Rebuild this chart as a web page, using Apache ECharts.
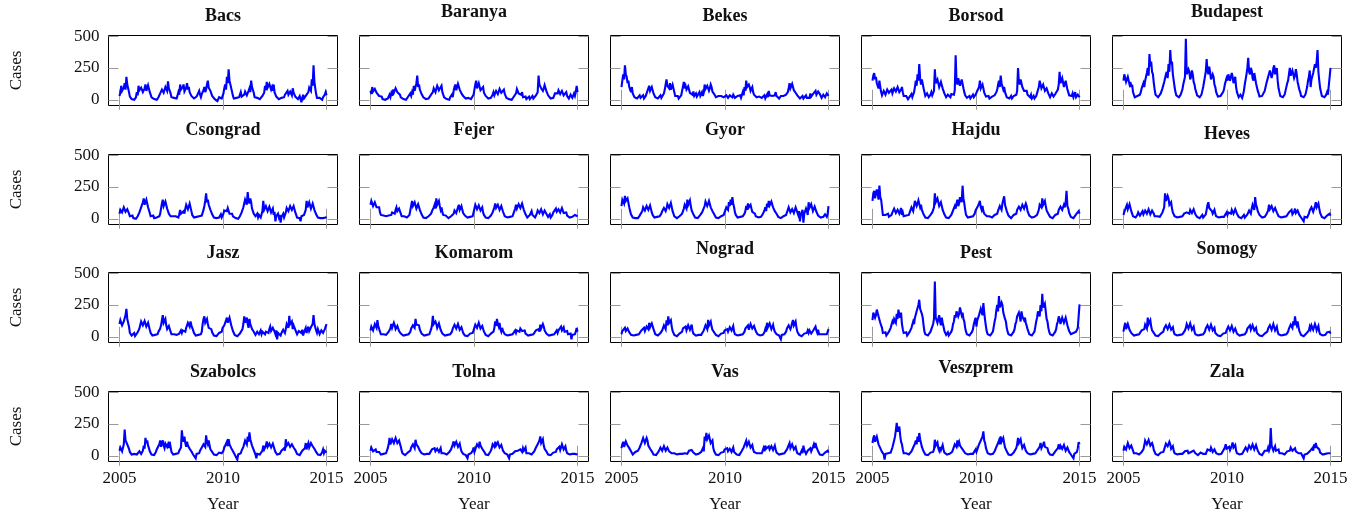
<!DOCTYPE html>
<html><head><meta charset="utf-8">
<script src="https://cdn.jsdelivr.net/npm/echarts@6/dist/echarts.min.js"></script>
<style>html,body{margin:0;padding:0;background:#fff}#c{width:1364px;height:517px}</style>
</head><body><div id="c"></div>
<script>
const counties = ['Bacs','Baranya','Bekes','Borsod','Budapest','Csongrad','Fejer','Gyor','Hajdu','Heves','Jasz','Komarom','Nograd','Pest','Somogy','Szabolcs','Tolna','Vas','Veszprem','Zala'];
const xTicks = [2005, 2010, 2015];
const yTicks = [0, 250, 500];
const X_START = 2005, X_END = 2015;

// half-monthly values, 2005-2014 (one row per year)
const bacs = [
30,55,110,70,60,95,130,80,180,120,110,60,25,40,5,15,10,0,5,20,60,35,110,75,
60,95,110,60,50,90,120,70,80,115,115,60,40,20,10,25,5,10,10,0,5,20,30,50,
50,80,90,55,60,100,100,70,145,90,90,50,20,35,5,15,0,10,10,25,60,40,120,80,
70,100,120,65,50,95,130,80,100,60,60,30,20,35,10,0,5,25,30,10,70,40,20,45,
40,75,100,60,80,120,150,95,110,70,60,30,15,30,5,10,10,-10,5,20,20,5,10,25,
50,90,120,80,180,130,240,150,150,90,60,30,10,25,5,15,0,10,20,5,60,25,20,40,
40,65,70,35,30,70,90,60,150,100,100,55,20,35,5,15,10,0,5,20,10,30,30,55,
110,75,140,95,90,125,130,80,100,70,120,60,50,25,10,20,5,10,0,15,10,25,20,40,
30,55,70,40,40,65,60,35,90,55,50,25,10,25,5,20,30,5,-20,15,40,10,10,30,
20,45,60,95,100,70,160,110,270,140,90,45,15,30,5,15,10,0,0,20,20,40,60,35];
const baranya = [
70,45,100,65,60,85,90,55,70,45,30,15,15,25,5,15,10,0,5,15,10,25,40,20,
50,30,80,55,60,90,100,60,70,45,40,20,15,25,5,15,10,0,5,20,20,35,50,30,
60,40,110,70,80,130,190,100,120,80,80,45,40,20,10,25,5,15,0,10,15,30,40,20,
60,90,100,60,70,110,120,75,90,60,110,60,40,20,10,25,5,15,10,0,20,35,40,20,
70,100,120,75,90,125,130,80,80,50,60,30,20,35,10,20,5,15,10,0,5,20,20,40,
80,120,150,90,100,130,120,75,90,60,100,55,60,30,20,35,10,20,5,15,20,40,60,35,
40,70,70,45,50,85,90,55,60,40,80,45,30,15,10,25,5,15,10,0,5,20,20,35,
50,85,80,50,60,35,40,60,20,35,10,25,5,15,10,25,5,15,15,30,10,25,20,35,
30,60,190,120,120,90,100,70,90,115,110,70,70,35,20,35,10,20,5,15,30,50,60,35,
50,75,80,45,40,70,70,35,20,45,60,30,30,10,10,40,40,15,20,50,30,60,110,60];
const bekes = [
100,150,200,160,270,200,180,130,150,100,90,60,100,50,40,20,20,30,10,20,20,35,15,25,
20,35,10,25,30,50,60,90,110,70,80,100,90,50,40,20,20,30,10,20,20,35,15,25,
30,50,80,120,160,110,120,90,130,80,90,120,110,60,30,15,15,30,10,20,20,35,30,45,
140,90,110,80,80,105,100,55,60,40,40,65,30,15,50,25,20,40,60,30,40,60,30,55,
120,85,80,110,110,70,90,120,100,65,70,45,40,20,20,35,30,15,15,30,25,40,20,35,
20,35,30,15,15,35,35,20,20,40,30,15,10,25,30,15,20,35,15,30,60,35,100,70,
150,100,90,120,100,70,80,100,60,40,30,50,20,35,10,25,25,10,15,30,20,35,10,25,
40,20,70,35,20,40,30,15,15,35,60,30,20,40,10,25,30,15,15,30,20,40,40,25,
60,90,130,90,100,125,110,75,80,55,60,35,20,35,10,25,15,30,10,25,20,35,15,30,
30,15,50,25,20,45,60,30,70,40,40,65,80,45,30,15,20,40,40,20,30,50,50,30];
const borsod = [
150,190,210,160,180,130,120,90,150,100,60,35,40,70,70,40,50,80,90,55,40,70,80,50,
60,90,100,65,70,100,90,60,50,80,100,60,30,15,15,30,20,5,10,25,25,45,20,40,
60,100,150,110,200,150,280,170,120,160,150,90,60,30,30,50,50,20,20,40,60,35,40,70,
240,130,120,160,150,100,100,140,140,90,90,50,40,20,20,40,50,25,20,45,60,35,40,75,
350,150,120,170,180,110,100,160,160,90,60,35,30,15,15,30,30,10,10,25,40,20,20,40,
40,70,60,100,150,90,80,120,90,55,40,25,20,40,30,10,10,25,25,10,15,35,40,60,
80,120,150,100,190,130,120,80,100,60,40,20,20,35,10,25,30,10,15,30,25,45,40,70,
250,140,120,160,160,100,110,70,80,60,70,40,50,25,20,40,10,25,30,10,15,30,20,40,
100,150,150,90,80,120,120,70,60,90,90,50,40,20,30,50,50,25,20,45,60,35,80,120,
220,130,130,170,170,100,90,150,160,80,60,35,40,20,30,50,20,40,60,20,20,40,40,20];
const budapest = [
150,200,200,140,130,180,180,120,140,100,120,60,40,20,20,35,30,15,20,40,60,90,100,130,
100,150,150,210,250,190,360,260,300,220,200,130,80,40,30,50,20,35,30,50,60,90,100,140,
150,200,220,170,280,220,390,280,300,200,150,100,60,35,30,45,20,35,40,60,80,120,130,180,
480,200,200,240,220,160,180,230,200,140,120,80,60,35,30,45,20,35,40,70,100,140,180,220,
320,230,200,260,220,160,150,200,180,120,100,60,50,25,20,40,30,15,40,60,80,120,130,170,
150,200,200,150,160,210,180,130,140,180,100,60,40,20,20,40,30,15,40,70,120,160,200,250,
330,220,200,250,230,170,150,210,200,130,120,70,50,25,20,40,30,15,40,70,80,130,120,180,
180,230,220,170,200,250,270,200,200,250,150,90,60,30,30,45,20,35,40,70,80,130,150,200,
250,190,180,230,220,170,190,240,200,140,130,80,60,30,30,45,20,35,40,70,100,150,180,230,
100,160,150,210,200,280,250,300,390,220,150,90,60,30,30,45,20,35,40,60,40,30,50,250];
const csongrad = [
40,70,80,50,60,90,90,55,50,75,70,40,20,10,10,25,5,15,10,0,5,20,30,50,
60,90,100,130,160,110,130,150,150,90,80,45,20,35,10,25,5,15,0,10,10,25,20,40,
80,120,150,100,110,135,130,80,60,40,40,20,10,25,20,5,5,20,15,30,10,35,70,40,
30,50,60,40,80,110,120,75,90,120,110,60,30,15,10,25,5,15,10,0,20,35,10,25,
40,70,100,140,200,130,150,110,120,70,60,35,20,10,10,25,5,15,0,10,20,35,10,25,
40,65,80,50,60,85,70,40,30,50,40,20,10,25,5,15,10,0,0,20,30,50,60,90,
100,150,160,110,210,140,120,160,130,80,70,40,40,20,20,40,10,30,30,10,5,60,140,70,
60,100,100,60,70,95,90,50,50,80,30,55,-20,20,20,40,10,30,-30,15,20,40,10,30,
50,85,100,60,60,100,110,70,70,100,90,50,30,10,10,25,5,-20,20,5,10,30,40,70,
140,90,100,130,120,80,90,120,110,70,60,35,30,10,10,25,5,15,20,5,10,20,10,15];
const fejer = [
110,140,140,100,100,130,130,90,80,100,90,50,30,15,15,25,10,20,20,10,10,25,40,25,
30,50,50,35,40,70,90,60,60,80,70,40,20,10,10,20,5,15,10,20,15,30,30,45,
140,100,100,130,120,80,90,115,110,70,60,35,20,10,10,20,5,15,10,20,20,35,40,60,
60,90,110,80,160,110,120,140,100,70,90,50,30,15,15,25,10,20,5,15,10,20,20,35,
40,65,70,45,60,90,110,70,80,100,70,45,50,25,20,35,10,20,5,15,15,30,20,35,
80,110,110,75,90,105,100,65,70,90,50,30,20,10,10,20,5,15,10,25,30,50,60,90,
120,85,90,110,100,70,80,100,90,55,40,20,20,10,10,20,5,15,10,25,20,40,50,80,
110,80,90,115,120,85,100,120,110,70,60,35,20,10,10,25,30,15,60,30,20,35,10,25,
40,65,70,45,50,75,60,35,40,65,70,40,30,15,20,35,10,25,30,50,60,40,80,55,
50,75,80,50,60,85,70,45,40,60,50,25,20,10,10,20,5,15,20,5,30,15,40,20];
const gyor = [
100,150,160,120,180,140,140,160,150,90,60,35,20,10,10,20,5,15,15,5,10,25,20,35,
60,90,100,65,70,100,110,70,80,105,90,50,30,15,10,20,5,15,10,20,20,35,40,60,
60,85,90,60,80,115,130,85,100,125,110,60,40,20,10,20,5,15,10,20,20,35,40,60,
80,110,110,80,150,110,120,145,100,65,60,35,20,10,10,20,5,15,15,30,30,50,40,65,
100,135,140,100,120,140,130,90,90,60,60,35,20,10,10,20,5,15,10,20,20,35,30,50,
60,90,100,70,130,100,150,110,170,120,90,50,30,15,10,20,5,15,10,20,20,35,40,60,
100,70,120,90,90,110,80,55,60,40,40,20,20,10,10,20,5,15,20,35,40,65,90,60,
120,90,140,105,100,135,130,90,90,60,70,40,30,15,10,20,5,15,10,20,20,35,30,50,
60,90,90,50,40,75,80,45,60,90,90,50,30,60,-20,30,20,70,-30,40,40,80,60,30,
130,85,90,115,100,60,70,95,90,55,50,25,30,10,10,20,5,15,20,35,30,15,40,100];
const hajdu = [
140,200,220,160,170,230,200,150,260,170,150,90,30,15,15,30,20,40,40,15,15,30,30,50,
50,80,80,45,40,70,70,40,60,85,30,50,20,35,10,25,15,30,30,50,60,90,90,60,
100,140,150,100,120,145,140,90,110,70,60,35,20,10,10,20,5,15,15,30,30,50,60,90,
200,130,120,160,150,100,110,130,120,70,60,35,20,10,10,20,5,15,15,30,40,65,70,100,
80,120,150,100,120,170,180,130,260,160,120,70,30,15,10,20,5,15,10,25,20,35,40,65,
60,90,80,120,140,90,70,100,60,40,40,25,20,10,10,20,5,15,10,25,15,30,20,40,
40,65,60,100,100,70,120,150,177,110,110,60,50,25,10,20,5,15,15,30,20,40,40,70,
60,95,100,70,80,110,110,80,90,120,100,60,50,25,20,35,10,20,5,15,15,30,30,50,
70,110,120,90,160,110,110,140,100,65,70,40,30,15,10,20,5,15,15,30,20,40,40,70,
60,95,100,70,80,110,90,130,220,100,80,45,30,15,10,20,5,15,20,35,30,50,60,40];
const heves = [
30,55,70,40,110,75,90,115,100,60,40,20,15,30,10,25,30,50,50,25,20,40,60,35,
40,65,70,40,50,75,60,35,40,65,70,40,20,10,10,20,5,15,15,30,30,50,60,90,
200,140,150,180,160,110,100,130,80,50,40,20,15,30,10,20,5,15,10,25,20,35,40,25,
30,50,60,35,40,70,80,45,50,75,60,35,30,15,10,20,5,15,15,30,10,25,20,35,
70,110,130,85,80,100,60,40,50,70,40,20,20,10,10,20,5,15,10,25,15,30,30,50,
30,50,60,35,40,70,70,40,50,75,70,40,30,15,10,20,5,15,15,30,10,25,20,35,
40,65,60,40,80,110,100,70,170,110,90,60,60,30,20,35,10,20,5,15,20,35,40,65,
110,75,80,100,90,60,60,85,80,50,40,20,20,10,10,20,5,15,10,25,20,35,30,50,
40,65,70,35,30,55,80,45,40,65,60,30,20,10,10,25,-20,15,30,10,10,25,40,65,
60,90,80,55,70,100,130,90,100,120,80,45,30,15,10,20,5,15,10,25,20,35,40,25];
const jasz = [
100,130,140,90,90,120,130,170,220,140,130,80,30,15,10,25,15,30,5,20,20,35,40,65,
80,120,134,90,100,125,120,80,90,110,100,55,30,15,10,20,5,15,15,30,20,40,40,65,
90,130,170,110,110,140,90,60,60,85,70,40,20,10,10,20,5,15,15,30,10,25,30,50,
30,50,60,35,40,70,80,110,110,80,120,90,90,50,30,15,10,20,5,15,15,30,20,40,
100,140,160,110,120,140,100,70,80,55,60,35,20,10,10,20,5,15,15,30,20,40,40,70,
60,90,100,130,150,110,120,150,140,90,80,45,30,15,10,20,5,15,10,25,20,40,60,100,
160,110,120,150,100,70,140,100,90,60,70,40,30,15,20,40,40,20,30,50,20,40,30,50,
20,40,50,25,30,60,80,45,40,70,80,40,20,50,-20,30,20,45,10,30,30,55,50,30,
60,100,110,70,164,100,90,120,60,90,100,55,40,20,20,45,60,30,30,55,10,35,40,70,
30,55,80,45,40,75,60,100,170,100,90,50,30,60,40,20,20,50,60,30,30,60,70,100];
const komarom = [
50,80,80,50,60,100,100,70,130,85,70,40,20,10,10,20,5,15,15,30,20,40,40,65,
100,70,80,110,90,60,60,85,70,45,50,25,20,10,10,20,5,15,10,25,20,35,40,65,
60,90,100,70,140,95,80,110,90,55,50,25,20,10,10,20,5,15,10,25,20,40,60,90,
164,100,90,120,100,70,80,105,90,55,50,25,20,10,10,20,5,15,10,25,20,35,40,65,
60,95,100,65,70,100,90,55,50,75,60,30,20,10,10,20,5,15,10,25,15,30,30,50,
60,95,110,70,80,110,100,65,60,85,70,40,30,15,10,20,5,15,10,25,20,40,40,70,
120,85,140,100,80,110,60,40,70,45,40,20,20,10,10,20,5,15,10,25,20,35,30,50,
30,50,60,35,40,65,80,45,30,55,50,25,20,10,10,20,5,15,15,30,20,35,30,50,
40,65,60,40,95,65,70,100,80,50,50,25,20,10,10,20,5,15,10,25,20,35,30,50,
30,50,60,35,80,50,50,75,40,25,30,45,20,10,10,25,-20,15,15,30,20,40,70,40];
const nograd = [
20,45,50,30,70,45,40,65,60,35,30,15,15,30,10,20,5,15,10,25,20,35,30,50,
40,65,70,45,50,80,90,60,110,75,80,105,100,60,40,20,20,35,10,25,15,30,30,50,
60,90,90,60,130,90,160,110,100,130,80,45,30,15,10,20,5,15,10,25,20,35,40,65,
50,80,80,50,60,90,90,55,70,95,50,25,20,10,10,20,5,15,10,25,15,30,30,50,
60,90,90,60,132,90,100,120,80,55,60,35,30,15,10,20,5,15,10,25,20,35,30,50,
40,65,60,40,50,75,80,50,60,85,40,20,20,10,10,20,5,15,10,25,20,35,40,65,
50,80,90,55,70,100,99,65,60,85,80,45,40,20,20,35,10,20,5,15,20,35,60,40,
110,75,80,105,90,60,70,95,60,40,40,20,20,10,10,25,-20,15,15,30,20,35,40,65,
60,90,90,60,80,110,132,90,100,120,70,40,30,15,10,20,5,15,10,25,20,35,30,50,
30,50,40,25,20,45,60,35,80,50,30,55,20,10,10,20,5,15,20,35,30,20,30,60];
const pest = [
130,190,200,150,170,214,214,160,150,110,120,70,30,15,20,35,10,25,20,40,40,70,80,120,
100,140,150,110,180,140,214,170,150,190,100,60,30,15,20,35,10,25,20,40,40,70,80,120,
100,150,150,200,200,250,291,220,230,180,150,90,40,20,20,35,10,25,20,40,50,80,100,140,
435,150,150,110,140,170,120,90,150,110,80,45,30,15,20,35,10,25,20,40,60,100,120,170,
150,200,209,160,180,230,230,170,190,140,120,70,40,20,20,35,10,25,20,40,60,100,100,150,
80,130,120,170,180,220,220,170,264,190,130,80,40,20,20,35,10,25,20,40,80,120,150,210,
250,200,320,230,220,270,250,190,200,140,120,70,40,20,20,35,10,25,20,40,60,100,120,160,
150,190,160,120,200,160,170,130,150,110,100,60,40,20,20,35,10,25,20,40,80,120,150,200,
200,160,250,200,338,230,220,260,200,140,120,70,40,20,20,35,10,25,20,40,60,100,120,160,
140,100,100,150,160,110,120,150,140,90,80,45,40,20,20,35,30,15,20,40,40,70,60,255];
const somogy = [
40,80,110,60,70,100,90,55,50,30,30,15,10,20,5,15,10,25,20,35,30,50,40,65,
60,95,100,65,150,100,110,130,80,50,60,30,20,10,10,20,5,15,10,25,20,35,40,65,
60,90,99,60,70,95,90,55,50,75,40,20,20,10,10,20,5,15,10,25,20,35,30,50,
70,100,100,65,80,105,90,55,60,80,40,20,20,10,10,20,5,15,10,25,20,35,40,65,
60,90,90,55,70,95,80,50,50,70,30,15,20,10,10,20,5,15,10,25,20,35,30,50,
50,80,80,50,60,85,70,40,40,65,50,25,20,10,10,20,5,15,10,25,20,35,40,65,
50,80,90,55,60,90,80,50,50,70,30,15,20,10,10,20,5,15,10,25,20,35,40,65,
60,90,90,55,70,100,85,50,60,80,40,20,20,10,10,20,5,15,10,25,20,35,40,65,
60,95,100,70,120,90,160,110,90,120,80,45,30,15,10,20,5,15,10,25,20,35,50,80,
60,90,90,55,70,100,80,50,60,85,40,20,20,10,10,20,5,15,20,35,30,50,40,25];
const szabolcs = [
40,65,60,35,50,90,205,120,120,90,100,55,30,15,10,20,5,15,15,30,10,25,20,35,
30,15,20,40,80,55,140,100,120,80,60,35,20,10,10,20,5,15,30,50,60,40,90,120,
70,100,121,80,60,95,110,70,90,60,110,70,30,15,10,20,5,15,15,30,20,40,40,65,
200,130,110,150,100,70,110,80,90,55,60,35,20,10,10,25,-20,15,15,30,20,40,40,65,
60,90,100,70,160,110,90,120,80,50,60,30,20,10,10,20,5,15,10,25,15,30,20,35,
40,65,80,50,110,75,131,90,90,60,60,35,20,10,10,25,-30,10,10,25,20,40,40,70,
80,120,120,90,150,110,184,130,120,80,80,45,30,10,-20,15,10,25,10,20,20,40,80,50,
50,80,113,70,60,95,100,65,70,95,90,50,30,15,10,20,5,15,20,40,30,55,60,40,
130,80,70,100,110,70,60,90,100,65,80,45,30,15,10,20,5,15,20,40,30,55,60,100,
50,80,100,65,70,100,113,75,80,55,60,30,20,10,10,20,5,15,30,50,20,40,40,25];
const tolna = [
40,65,60,35,30,50,50,30,20,35,30,15,10,20,5,15,10,25,20,40,60,90,140,90,
100,130,140,100,110,140,145,100,90,120,120,70,40,20,10,20,5,15,10,25,20,35,40,65,
60,90,90,60,126,90,100,70,60,40,40,20,20,10,10,20,5,15,10,25,15,30,30,50,
40,60,60,35,30,55,50,30,40,60,20,35,10,20,5,15,10,25,15,30,30,50,60,90,
113,80,90,110,110,70,70,95,60,35,30,15,10,20,5,15,-20,10,10,25,20,35,40,65,
30,50,60,90,100,70,110,80,80,55,60,35,20,10,10,20,5,15,20,40,60,90,100,70,
110,80,80,105,100,65,60,85,70,40,40,20,20,10,10,20,-20,10,10,25,15,30,20,35,
20,35,40,25,30,50,50,30,60,40,40,65,20,10,10,20,5,15,10,25,20,35,40,65,
60,90,90,120,152,100,100,130,80,55,60,35,20,10,10,20,5,15,10,25,15,30,30,50,
40,65,70,45,66,90,80,50,50,75,40,20,20,10,10,20,5,15,10,25,15,30,20,10];
const vas = [
60,90,110,70,80,113,113,80,90,60,60,35,20,10,10,25,30,15,20,40,40,65,70,100,
100,140,152,100,110,140,120,80,80,55,60,35,20,10,10,20,5,15,20,35,40,65,60,40,
50,75,60,40,40,65,60,35,30,50,20,35,10,20,5,15,10,20,5,15,10,20,15,25,
10,20,20,10,15,30,40,25,30,45,40,25,20,10,10,20,5,15,15,30,30,15,60,35,
150,120,179,130,120,160,130,100,90,120,60,35,20,10,10,20,5,15,10,25,15,30,30,50,
40,65,60,35,30,55,50,30,40,65,30,15,20,10,10,20,5,15,20,40,40,65,80,55,
118,80,90,110,100,65,60,85,50,30,30,15,20,10,10,20,5,15,20,40,60,35,80,55,
60,40,74,50,50,75,70,45,60,80,50,25,20,10,10,20,5,15,10,25,20,35,30,50,
40,65,100,60,60,90,80,50,50,70,40,20,20,10,10,25,40,20,80,45,30,15,20,40,
30,50,60,35,40,70,90,60,100,70,60,35,20,10,10,20,5,15,10,25,20,35,40,25];
const veszprem = [
100,140,160,110,120,150,140,90,100,60,60,30,20,10,-30,15,10,25,20,5,10,25,40,65,
80,120,150,200,258,190,200,230,160,110,90,50,20,10,10,20,5,15,10,25,20,35,40,65,
60,95,120,90,150,110,179,130,100,70,60,35,20,10,10,20,5,15,10,25,15,30,30,50,
126,80,80,105,60,40,70,45,60,85,50,25,20,10,10,20,5,15,15,30,30,50,60,90,
100,70,120,90,110,80,90,60,60,40,40,20,20,10,10,20,5,15,10,25,15,30,30,50,
30,50,60,90,80,120,120,150,192,120,100,60,40,20,20,35,10,20,5,15,20,35,40,70,
60,100,120,90,152,110,110,140,100,65,60,35,20,10,10,20,5,15,10,25,20,40,60,90,
140,100,110,130,90,60,60,85,70,40,40,20,20,10,10,20,5,15,10,25,20,35,30,50,
40,70,100,60,60,90,110,70,80,55,60,30,20,10,10,20,5,15,20,35,40,25,60,90,
50,80,87,55,60,85,70,40,40,65,60,30,20,10,10,25,-20,15,10,25,30,60,108,90];
const zala = [
40,70,80,50,60,100,100,60,50,80,80,40,20,10,10,20,5,15,10,25,15,30,30,50,
80,120,131,90,100,125,120,80,70,100,80,45,30,15,10,20,5,15,10,25,15,30,30,50,
60,95,110,75,80,110,90,55,50,75,40,20,20,10,10,20,5,15,10,25,15,30,20,35,
20,35,40,20,15,30,30,15,20,40,40,20,10,25,5,15,10,25,20,40,15,30,30,15,
30,50,60,35,40,65,50,30,30,50,40,20,20,10,10,20,5,15,20,40,40,65,90,55,
40,65,70,45,50,80,105,65,60,85,40,20,20,10,10,20,5,15,20,40,40,65,60,40,
50,80,90,55,60,90,80,50,60,85,70,40,30,15,10,20,5,15,20,40,30,55,40,65,
40,60,218,80,60,40,50,75,40,25,30,50,20,10,10,20,5,15,10,25,20,35,30,50,
40,65,70,40,30,55,60,35,30,50,20,35,10,20,5,15,-20,10,10,25,15,30,20,35,
30,50,60,40,90,60,100,70,80,55,50,25,20,10,10,20,5,15,10,25,20,35,30,20];

const seriesValues = [bacs, baranya, bekes, borsod, budapest, csongrad, fejer, gyor, hajdu, heves,
  jasz, komarom, nograd, pest, somogy, szabolcs, tolna, vas, veszprem, zala];

const FONT = '"Liberation Serif", "Times New Roman", serif';
const L0 = 108.5, T0 = 35.5, DX = 251, DY = 118.7, W = 229, H = 70;
const grids = [], xAxes = [], yAxes = [], series = [], graphics = [];
const tickStyle = { color: '#9a9a9a', width: 1 };

counties.forEach((name, i) => {
  const r = Math.floor(i / 5), c = i % 5;
  const left = L0 + c * DX, top = Math.round(T0 + r * DY - 0.5) + 0.5;
  grids.push({ left, top, width: W, height: H, show: true, borderColor: '#000', borderWidth: 1, backgroundColor: 'transparent' });
  const xBase = { type: 'value', gridIndex: i, min: 2004.47, max: 2015.53, splitLine: { show: false }, axisLine: { show: false } };
  xAxes.push(Object.assign({}, xBase, {
    position: 'bottom',
    axisTick: { show: true, inside: true, length: 10, lineStyle: tickStyle, customValues: xTicks },
    axisLabel: { show: r === 3, customValues: xTicks, margin: 9, fontFamily: FONT, fontSize: 17, color: '#111', formatter: v => String(v) },
    name: r === 3 ? 'Year' : '', nameLocation: 'middle', nameGap: 35,
    nameTextStyle: { fontFamily: FONT, fontSize: 17, color: '#111' }
  }));
  xAxes.push(Object.assign({}, xBase, {
    position: 'top',
    axisTick: { show: true, inside: true, length: 10, lineStyle: tickStyle, customValues: xTicks },
    axisLabel: { show: false }
  }));
  const yBase = { type: 'value', gridIndex: i, min: -45, max: 505, splitLine: { show: false }, axisLine: { show: false } };
  yAxes.push(Object.assign({}, yBase, {
    position: 'left',
    axisTick: { show: true, inside: true, length: 10, lineStyle: tickStyle, customValues: yTicks },
    axisLabel: { show: c === 0, customValues: yTicks, margin: 9, fontFamily: FONT, fontSize: 17, color: '#111', formatter: v => String(v) },
    name: c === 0 ? 'Cases' : '', nameLocation: 'middle', nameGap: 83, nameRotate: 90,
    nameTextStyle: { fontFamily: FONT, fontSize: 17, color: '#111' }
  }));
  yAxes.push(Object.assign({}, yBase, {
    position: 'right',
    axisTick: { show: true, inside: true, length: 10, lineStyle: tickStyle, customValues: yTicks },
    axisLabel: { show: false }
  }));
  const vals = seriesValues[i];
  const n = vals.length;
  series.push({
    type: 'line', xAxisIndex: 2 * i, yAxisIndex: 2 * i,
    symbol: 'none', showSymbol: false, clip: true, silent: true,
    lineStyle: { color: '#0000ff', width: 2.1, join: 'miter', miterLimit: 4 },
    data: vals.map((v, k) => [X_START + k * (X_END - X_START) / (n - 1), v])
  });
  const desc = /[gjpqy]/.test(name);
  graphics.push({
    type: 'text', x: Math.round(left + W / 2), y: Math.round(15.5 + r * DY - (desc ? 4 : 0)),
    style: { text: name, fill: '#111', font: 'bold 18px ' + FONT, textAlign: 'center', textVerticalAlign: 'middle', align: 'center', verticalAlign: 'middle' }
  });
});

const chart = echarts.init(document.getElementById('c'), null, { renderer: 'canvas' });
chart.setOption({
  animation: false,
  backgroundColor: '#fff',
  grid: grids, xAxis: xAxes, yAxis: yAxes, series: series,
  graphic: graphics
});
</script>
</body></html>
